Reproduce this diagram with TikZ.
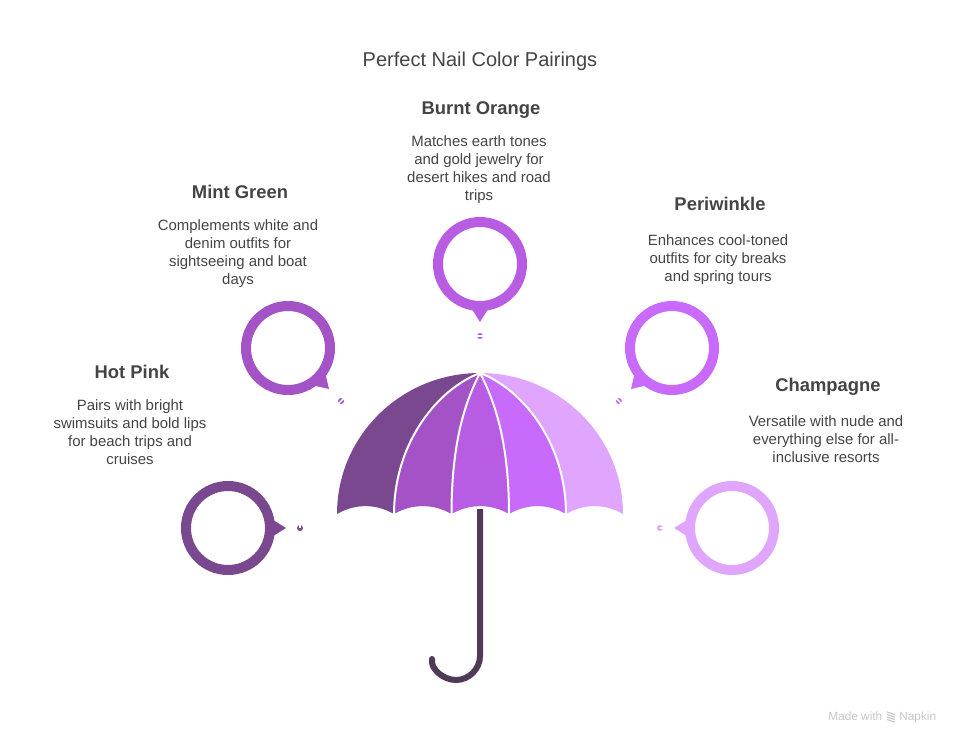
\documentclass[tikz,border=0pt]{standalone}
\usepackage{fontspec}
\usepackage{xcolor}
\setmainfont{Liberation Sans}
\usetikzlibrary{arrows.meta,calc,positioning}
\definecolor{tonoA}{HTML}{7A488E}
\definecolor{tonoB}{HTML}{A353C5}
\definecolor{tonoC}{HTML}{B85CE3}
\definecolor{tonoD}{HTML}{C86AFB}
\definecolor{tonoE}{HTML}{E0A6FF}
\definecolor{mango}{HTML}{4F3A58}
\definecolor{letra}{HTML}{444444}
\tikzset{
  aro/.style={circle,draw=#1,line width=7.5pt,minimum size=63pt,inner sep=0pt},
  rayo/.style={white,line width=1.5pt},
  titulo/.style={text=letra,anchor=base,font=\fontsize{15}{18}\selectfont},
  cabeza/.style={text=letra,anchor=base,inner sep=0pt,font=\fontsize{13.8}{16}\selectfont\bfseries},
  cuerpo/.style={text=letra,align=center,anchor=north,inner sep=0pt,xshift=-1.5pt,font=\fontsize{11.2}{13.5}\selectfont},
  marca/.style={text=black!22,anchor=base west,inner sep=0pt,font=\fontsize{8.9}{10}\selectfont}
}
\begin{document}
\begin{tikzpicture}[x=0.75pt,y=-0.75pt]
\useasboundingbox (0,0) rectangle (960,744);
\node[titulo] (titulo) at (480,66) {Perfect Nail Color Pairings};
% paneles del paraguas
\fill[tonoA] (480,373) .. controls (401,373) and (337,436) .. (337,514)
  .. controls (355,503.5) and (376,503.5) .. (394,514)
  .. controls (394,440) and (440,388) .. (480,373);
\fill[tonoB] (480,373) .. controls (440,388) and (394,440) .. (394,514)
  .. controls (412,503.5) and (433.5,503.5) .. (451.5,514)
  .. controls (451.5,440) and (466,400) .. (480,373);
\fill[tonoC] (480,373) .. controls (466,400) and (451.5,440) .. (451.5,514)
  .. controls (469.5,503.5) and (491,503.5) .. (509,514)
  .. controls (509,440) and (494,400) .. (480,373);
\fill[tonoD] (480,373) .. controls (494,400) and (509,440) .. (509,514)
  .. controls (527,503.5) and (548,503.5) .. (566,514)
  .. controls (566,440) and (520,388) .. (480,373);
\fill[tonoE] (480,373) .. controls (520,388) and (566,440) .. (566,514)
  .. controls (584,503.5) and (605,503.5) .. (623,514)
  .. controls (623,436) and (559,373) .. (480,373);
\draw[rayo] (480,373) .. controls (440,388) and (394,440) .. (394,515);
\draw[rayo] (480,373) .. controls (466,400) and (451.5,440) .. (451.5,515);
\draw[rayo] (480,373) .. controls (494,400) and (509,440) .. (509,515);
\draw[rayo] (480,373) .. controls (520,388) and (566,440) .. (566,515);
% mango
\draw[mango,line width=4.5pt,-{Round Cap[]}] (480,509)--(480,656)
  .. controls (480,669) and (469,680) .. (456,680)
  .. controls (443,680) and (432,669) .. (432,656);
% aros
\node[aro=tonoA] (rosa) at (228,528) {};
\node[aro=tonoB] (menta) at (288,348) {};
\node[aro=tonoC] (naranja) at (480,264) {};
\node[aro=tonoD] (perla) at (672,348) {};
\node[aro=tonoE] (champan) at (732,528) {};
\foreach \nm/\col/\ang/\dist/\raja/\ini in {rosa/tonoA/0/72/270/0,menta/tonoB/45/75/135/-4,naranja/tonoC/90/72/0/-4,perla/tonoD/135/75/45/-4,champan/tonoE/180/72/0/0}{
  \fill[\col] ($(\nm)+(\ang-11:45)$)--($(\nm)+(\ang:58)$)--($(\nm)+(\ang+11:45)$)--cycle;
  \fill[\col] ($(\nm)+(\ang:\dist)$) circle[radius=3];
  \draw[white,line width=1pt] ($(\nm)+(\ang:\dist)+(\raja:\ini)$)--($(\nm)+(\ang:\dist)+(\raja:4)$);
}
% textos
\node[cabeza] (rosatit) at (132,378) {Hot Pink};
\node[cuerpo,below=16pt of rosatit.base] (rosatxt) {Pairs with bright\\swimsuits and bold lips\\for beach trips and\\cruises};
\node[cabeza] (mentatit) at (240,198) {Mint Green};
\node[cuerpo,below=16pt of mentatit.base] (mentatxt) {Complements white and\\denim outfits for\\sightseeing and boat\\days};
\node[cabeza] (naranjatit) at (481,114) {Burnt Orange};
\node[cuerpo,below=16pt of naranjatit.base] (naranjatxt) {Matches earth tones\\and gold jewelry for\\desert hikes and road\\trips};
\node[cabeza] (perlatit) at (720,210) {Periwinkle};
\node[cuerpo,below=18.2pt of perlatit.base] (perlatxt) {Enhances cool-toned\\outfits for city breaks\\and spring tours};
\node[cabeza] (champantit) at (828,391) {Champagne};
\node[cuerpo,below=18.2pt of champantit.base] (champantxt) {Versatile with nude and\\everything else for all-\\inclusive resorts};
% marca
\node[marca] (hecho) at (828,720) {Made with};
\node[marca] (napkin) at (899,720) {Napkin};
\foreach \yy in {712,714.5,717,719.5}{
  \draw[black!22,line width=0.9pt] (887,\yy)--(895,\yy+2.5);
}
\end{tikzpicture}
\end{document}
